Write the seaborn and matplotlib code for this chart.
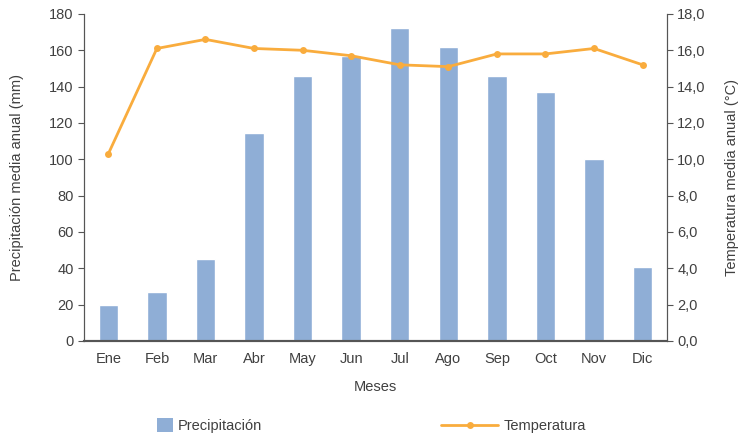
import numpy as np
import pandas as pd
import seaborn as sns
import matplotlib.pyplot as plt
from matplotlib.patches import Patch
from matplotlib.lines import Line2D
from matplotlib.ticker import FuncFormatter

meses = ['Ene', 'Feb', 'Mar', 'Abr', 'May', 'Jun', 'Jul', 'Ago', 'Sep', 'Oct', 'Nov', 'Dic']
precipitacion = [20, 27, 45, 114.5, 146, 157, 172, 162, 146, 137, 100, 41]
temperatura = [10.3, 16.1, 16.6, 16.1, 16.0, 15.7, 15.2, 15.1, 15.8, 15.8, 16.1, 15.2]

bar_color = '#8FAED6'
line_color = '#F9AC3D'
text_color = '#404040'

sns.set_style('white')
plt.rcParams['font.family'] = ['Liberation Sans', 'DejaVu Sans']
plt.rcParams['font.size'] = 10.5

df = pd.DataFrame({'mes': meses, 'precip': precipitacion, 'temp': temperatura})

fig = plt.figure(figsize=(7.41, 4.36), dpi=100)
ax = fig.add_axes([0.1134, 0.2179, 0.7866, 0.7501])

sns.barplot(data=df, x='mes', y='precip', color=bar_color, width=0.4, saturation=1, ax=ax)
ax.set_ylim(0, 180)
ax.set_yticks(range(0, 181, 20))
ax.set_xlim(-0.5, 11.5)
ax.set_xlabel('Meses', color=text_color, fontsize=10.5, labelpad=10)
ax.set_ylabel('Precipitación media anual (mm)', color=text_color, fontsize=10.5, labelpad=18)

ax2 = ax.twinx()
sns.lineplot(x=np.arange(len(meses)), y=df['temp'], color=line_color, marker='o',
             markersize=5, markeredgewidth=0, linewidth=2, ax=ax2)
ax2.set_ylim(0, 18)
ax2.set_yticks(np.arange(0, 18.1, 2))
ax2.yaxis.set_major_formatter(FuncFormatter(lambda v, p: f'{v:.1f}'.replace('.', ',')))
ax2.set_ylabel('Temperatura media anual (°C)', color=text_color, fontsize=10.5, labelpad=14)

for a in (ax, ax2):
    a.spines['top'].set_visible(False)
    a.spines['left'].set_color('#555555')
    a.spines['right'].set_color('#555555')
    a.spines['bottom'].set_color('#555555')
    a.spines['bottom'].set_linewidth(1.5)
    a.tick_params(axis='both', colors=text_color, labelsize=10.5)
    a.tick_params(axis='y', length=4, width=0.8, color='#555555')
    a.tick_params(axis='x', length=0, pad=8)

# two separate legend entries so each handle gets its own size
leg1 = fig.legend([Patch(facecolor=bar_color, edgecolor='none')], ['Precipitación'],
                  loc='center left', bbox_to_anchor=(0.194, 0.023), frameon=False,
                  handlelength=1.1, handleheight=1.1, handletextpad=0.35,
                  labelcolor=text_color, fontsize=10.5)
leg2 = fig.legend([Line2D([0], [0], color=line_color, linewidth=2, marker='o',
                          markersize=5, markeredgewidth=0)], ['Temperatura'],
                  loc='center left', bbox_to_anchor=(0.578, 0.023), frameon=False,
                  handlelength=3.9, handletextpad=0.35,
                  labelcolor=text_color, fontsize=10.5)

fig.savefig('out.png', dpi=100)
